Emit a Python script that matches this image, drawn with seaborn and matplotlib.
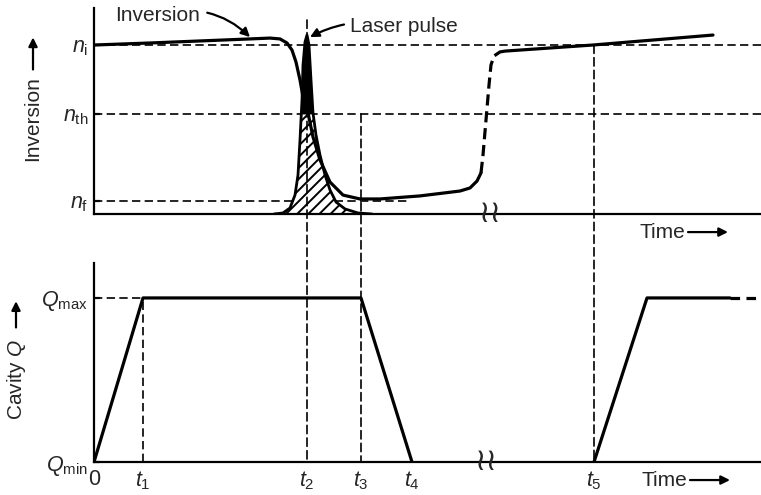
import numpy as np
import pandas as pd
import matplotlib
matplotlib.use("Agg")
import matplotlib.pyplot as plt
import seaborn as sns
from matplotlib.patches import ConnectionPatch

# ---------------- data (time in arbitrary units; inversion normalised to n_i = 1; Q to Q_max = 1)
N_I, N_TH, N_F = 1.0, 0.592, 0.077
inv_ticks = [N_F, N_TH, N_I]
inv_labels = [r"$n_{\mathrm{f}}$", r"$n_{\mathrm{th}}$", r"$n_{\mathrm{i}}$"]

# inversion before / during the pulse (solid)
inv_t = [0, 56, 156, 176, 186, 193, 198, 202, 206, 209, 214, 219, 226, 236, 249, 266, 286, 326, 366, 376, 383, 387]
inv_n = [1.0, 1.012, 1.036, 1.041, 1.036, 1.012, 0.970, 0.899, 0.793, 0.692, 0.598, 0.456, 0.320,
         0.189, 0.112, 0.089, 0.089, 0.107, 0.136, 0.154, 0.195, 0.243]
# recovery across the time break (dashed)
rec_t = [387, 389, 392, 395, 397, 400, 406, 411]
rec_n = [0.243, 0.349, 0.556, 0.763, 0.882, 0.935, 0.959, 0.964]
# inversion after the break (solid)
late_t = [411, 499, 619]
late_n = [0.964, 1.0, 1.059]

# laser pulse
pulse_t = [180, 189, 196, 201, 204, 206, 208, 209, 211, 213, 215, 217, 219, 222, 226, 231, 236, 242, 251, 264, 278]
pulse_n = [0.0, 0.006, 0.036, 0.112, 0.231, 0.438, 0.675, 0.882, 1.018, 1.059, 1.0, 0.793, 0.598,
           0.467, 0.349, 0.231, 0.142, 0.071, 0.030, 0.006, 0.0]

# cavity Q
time_ticks = [0, 49, 213, 267, 318, 500]
time_labels = ["0", r"$t_1$", r"$t_2$", r"$t_3$", r"$t_4$", r"$t_5$"]
q1_t = [0, 49, 267, 318]
q1 = [0, 1, 1, 0]
q2_t = [500, 553, 636]
q2 = [0, 1, 1]
q3_t = [636, 667]
q3 = [1, 1]
Q_ticks = [0, 1]
Q_labels = [r"$Q_{\mathrm{min}}$", r"$Q_{\mathrm{max}}$"]
T_BREAK = 396
T_END = 667

# ---------------- style
sns.set_style("white")
plt.rcParams["font.family"] = ["Liberation Sans", "DejaVu Sans"]
plt.rcParams["mathtext.fontset"] = "custom"
plt.rcParams["mathtext.rm"] = "Liberation Sans"
plt.rcParams["mathtext.it"] = "Liberation Sans:italic"
plt.rcParams["hatch.linewidth"] = 1.4
plt.rcParams["hatch.color"] = "black"

fig = plt.figure(figsize=(7.61, 4.95), dpi=100)
ax1 = fig.add_axes([94 / 761, 281 / 495, 667 / 761, 206 / 495])
ax2 = fig.add_axes([94 / 761, 33 / 495, 667 / 761, 199 / 495])

LW = 2.3
DASH = (0, (5, 2.6))
DLW = 1.2

for ax in (ax1, ax2):
    ax.set_facecolor("white")
    for s in ("top", "right"):
        ax.spines[s].set_visible(False)
    for s in ("left", "bottom"):
        ax.spines[s].set_linewidth(1.6)
        ax.spines[s].set_color("black")
    ax.set_xlim(0, T_END)

ax1.set_ylim(0, 1.219)
ax2.set_ylim(0, 1.213)

# ---- top panel reference lines
ax1.plot([0, T_END], [N_I, N_I], color="k", lw=DLW, ls=DASH, zorder=1)
ax1.plot([0, T_END], [N_TH, N_TH], color="k", lw=DLW, ls=DASH, zorder=1)
ax1.plot([0, 313], [N_F, N_F], color="k", lw=DLW, ls=DASH, zorder=1)

# ---- pulse
pt = np.array(pulse_t, float)
pn = np.array(pulse_n, float)
ax1.fill_between(pt, 0, pn, facecolor="white", edgecolor="black", hatch="///", lw=0, zorder=2)
ax1.fill_between(pt, N_TH, pn, where=pn >= N_TH, interpolate=True, color="black", lw=0, zorder=3)
sns.lineplot(x=pulse_t, y=pulse_n, ax=ax1, sort=False, estimator=None, color="black", lw=2.0, zorder=4)

# ---- inversion curve
sns.lineplot(x=inv_t, y=inv_n, ax=ax1, sort=False, estimator=None, color="black", lw=LW, zorder=5)
sns.lineplot(x=rec_t, y=rec_n, ax=ax1, sort=False, estimator=None, color="black", lw=LW,
             linestyle=(0, (3.5, 1.8)), zorder=5)
sns.lineplot(x=late_t, y=late_n, ax=ax1, sort=False, estimator=None, color="black", lw=LW, zorder=5)

ax1.set_yticks(inv_ticks)
ax1.set_yticklabels(inv_labels, fontsize=15.5)
ax1.set_xticks([])
ax1.tick_params(axis="y", direction="in", length=4, width=1.6, pad=4, left=True)
ax1.set_xlabel("")
ax1.set_ylabel("")

# annotations
ax1.annotate("Inversion", xy=(156, 1.047), xytext=(21, 1.172), fontsize=15, ha="left", va="center",
             arrowprops=dict(arrowstyle="-|>", color="black", lw=1.6, mutation_scale=13,
                             connectionstyle="arc3,rad=-0.3", shrinkA=3, shrinkB=0),
             annotation_clip=False)
ax1.annotate("Laser pulse", xy=(216, 1.047), xytext=(256, 1.107), fontsize=15, ha="left", va="center",
             arrowprops=dict(arrowstyle="-|>", color="black", lw=1.6, mutation_scale=13,
                             connectionstyle="arc3,rad=0.2", shrinkA=2, shrinkB=0),
             annotation_clip=False)

# axis titles
ax1.text(-61, 0.565, "Inversion", rotation=90, fontsize=15, ha="center", va="center", clip_on=False)
ax1.annotate("", xy=(-61, 1.045), xytext=(-61, 0.855), annotation_clip=False,
             arrowprops=dict(arrowstyle="-|>", color="black", lw=1.6, mutation_scale=13, shrinkA=0, shrinkB=0))
ax1.text(546, -0.107, "Time", fontsize=15, ha="left", va="center", clip_on=False)
ax1.annotate("", xy=(634, -0.107), xytext=(594, -0.107), annotation_clip=False,
             arrowprops=dict(arrowstyle="-|>", color="black", lw=1.6, mutation_scale=13, shrinkA=0, shrinkB=0))
ax1.text(T_BREAK, 0, "\u2240\u2240", fontsize=22, ha="center", va="center", clip_on=False,
         family="DejaVu Sans", zorder=6)

# ---- bottom panel
ax2.plot([0, 49], [1, 1], color="k", lw=DLW, ls=DASH, zorder=1)
ax2.plot([49, 49], [0, 1], color="k", lw=DLW, ls=DASH, zorder=1)
sns.lineplot(x=q1_t, y=q1, ax=ax2, sort=False, estimator=None, color="black", lw=LW, zorder=5)
sns.lineplot(x=q2_t, y=q2, ax=ax2, sort=False, estimator=None, color="black", lw=LW, zorder=5)
sns.lineplot(x=q3_t, y=q3, ax=ax2, sort=False, estimator=None, color="black", lw=LW,
             linestyle=(0, (3, 2)), zorder=5)

ax2.set_yticks(Q_ticks)
ax2.set_yticklabels(Q_labels, fontsize=15.5)
ax2.set_xticks(time_ticks)
ax2.set_xticklabels(time_labels, fontsize=15.5)
ax2.tick_params(axis="y", direction="in", length=4, width=1.6, pad=4, left=True)
ax2.tick_params(axis="x", length=0, pad=5)
ax2.set_xlabel("")
ax2.set_ylabel("")

ax2.text(-78, 0.506, r"Cavity $Q$", rotation=90, fontsize=15, ha="center", va="center", clip_on=False)
ax2.annotate("", xy=(-78, 0.98), xytext=(-78, 0.82), annotation_clip=False,
             arrowprops=dict(arrowstyle="-|>", color="black", lw=1.6, mutation_scale=13, shrinkA=0, shrinkB=0))
ax2.text(548, -0.11, "Time", fontsize=15, ha="left", va="center", clip_on=False)
ax2.annotate("", xy=(636, -0.11), xytext=(596, -0.11), annotation_clip=False,
             arrowprops=dict(arrowstyle="-|>", color="black", lw=1.6, mutation_scale=13, shrinkA=0, shrinkB=0))
ax2.text(T_BREAK - 4, 0, "\u2240\u2240", fontsize=22, ha="center", va="center", clip_on=False,
         family="DejaVu Sans", zorder=6)

# ---- vertical dashed markers spanning both panels
for t, ytop in [(213, 1.148), (267, N_TH), (500, N_I)]:
    con = ConnectionPatch(xyA=(t, ytop), coordsA=ax1.transData, xyB=(t, 0), coordsB=ax2.transData,
                          color="black", lw=DLW, linestyle=DASH, zorder=1)
    fig.add_artist(con)

fig.savefig("out.png", dpi=100, facecolor="white")
